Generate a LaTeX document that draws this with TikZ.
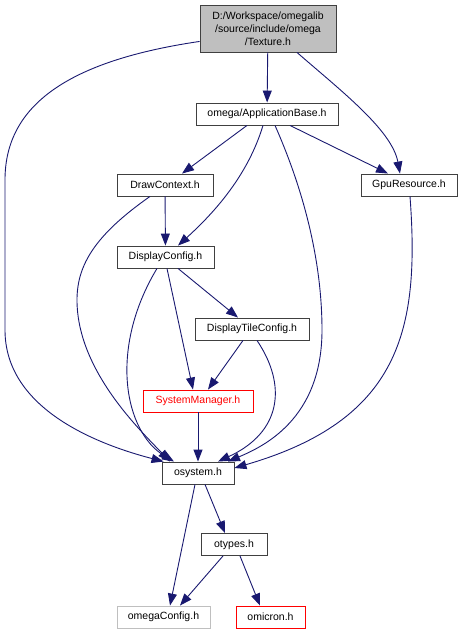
\documentclass[tikz,border=0pt]{standalone}
\usepackage{fontspec}
\setmainfont{Liberation Sans}
\usepackage{tikz}
\usetikzlibrary{arrows.meta,calc}
\usepackage{xcolor}
\definecolor{edgeblue}{RGB}{25,25,112}
\definecolor{boxgray}{RGB}{191,191,191}
\definecolor{boxred}{RGB}{255,0,0}
\definecolor{boxline}{RGB}{64,64,64}

\begin{document}
\begin{tikzpicture}[x=1pt, y=-1pt,
    hfile/.style={draw=boxline, fill=white, line width=0.9pt, inner sep=0pt,
        minimum height=22pt, font=\fontsize{10.5}{13}\selectfont},
    dep/.style={draw=edgeblue, line width=0.9pt, -{Triangle[length=12pt,width=9pt]}}]
    \useasboundingbox (0,0) rectangle (463,635);

    % --- Headers ---
    \node[hfile, fill=boxgray, minimum width=136pt, minimum height=47pt, align=center]
        (tex) at (268,28.5) {D:/Workspace/omegalib\\/source/include/omega\\/Texture.h};
    \node[hfile, minimum width=142pt] (app) at (267,114) {omega/ApplicationBase.h};
    \node[hfile, minimum width=96pt] (draw) at (165,185) {DrawContext.h};
    \node[hfile, minimum width=96pt] (gpu) at (409,185) {GpuResource.h};
    \node[hfile, minimum width=97pt] (disp) at (165.5,257) {DisplayConfig.h};
    \node[hfile, minimum width=114pt] (tile) at (252,329) {DisplayTileConfig.h};
    \node[hfile, draw=boxred, minimum width=110pt] (sysm) at (198,401) {\textcolor{boxred}{SystemManager.h}};
    \node[hfile, minimum width=72pt] (osys) at (198,473) {osystem.h};
    \node[hfile, minimum width=66pt] (otyp) at (234,544.5) {otypes.h};
    \node[hfile, draw=boxgray, minimum width=93pt] (ocfg) at (163.5,617) {omegaConfig.h};
    \node[hfile, draw=boxred, minimum width=69pt] (omic) at (270.5,617) {omicron.h};

    % --- Straight includes ---
    \foreach \a/\b in {tex/app, draw/disp, sysm/osys}{
        \draw[dep] (\a) -- (\b);
    }
    \draw[dep] ($(app.south)+(-20,0)$) -- ($(draw.north)+(17,0)$);
    \draw[dep] ($(app.south)+(23,0)$) -- ($(gpu.north)+(-21,0)$);
    \draw[dep] ($(disp.south)+(1.5,0)$) -- ($(sysm.north)+(-5,0)$);
    \draw[dep] ($(disp.south)+(12.5,0)$) -- ($(tile.north)+(-14,0)$);
    \draw[dep] ($(tile.south)+(-9,0)$) -- ($(sysm.north)+(10,0)$);
    \draw[dep] ($(osys.south)+(7,0)$) -- ($(otyp.north)+(-9,0)$);
    \draw[dep] ($(osys.south)+(-3,0)$) -- ($(ocfg.north)+(6.5,0)$);
    \draw[dep] ($(otyp.south)+(-11,0)$) -- ($(ocfg.north)+(16.5,0)$);
    \draw[dep] ($(otyp.south)+(6,0)$) -- ($(omic.north)+(-10.5,0)$);

    % --- Curved includes ---
    \draw[dep] ($(tex.south west)+(0,-11)$) .. controls (60,62) and (5,110) .. (5,180)
        -- (5,330) .. controls (5,410) and (100,445) .. ($(osys.north west)+(2,0)$);
    \draw[dep] ($(tex.south)+(29,0)$) .. controls (340,90) and (392,130) .. ($(gpu.north)+(-9,0)$);
    \draw[dep] ($(app.south)+(-4,0)$) .. controls (248,175) and (215,212) .. ($(disp.north)+(12.5,0)$);
    \draw[dep] ($(app.south)+(8,0)$) .. controls (308,200) and (322,270) .. (322,330)
        .. controls (322,420) and (262,447) .. ($(osys.north)+(30,0)$);
    \draw[dep] ($(draw.south)+(-15,0)$) .. controls (95,235) and (77,265) .. (77,300)
        .. controls (77,370) and (140,430) .. ($(osys.north)+(-28,0)$);
    \draw[dep] ($(disp.south)+(-8.5,0)$) .. controls (108,350) and (125,432) .. ($(osys.north)+(-24,0)$);
    \draw[dep] ($(tile.south)+(5,0)$) .. controls (287,385) and (282,432) .. ($(osys.north)+(20,0)$);
    \draw[dep] ($(gpu.south)+(1,0)$) .. controls (420,330) and (400,420) .. ($(osys.east)+(0,-5)$);
\end{tikzpicture}
\end{document}
